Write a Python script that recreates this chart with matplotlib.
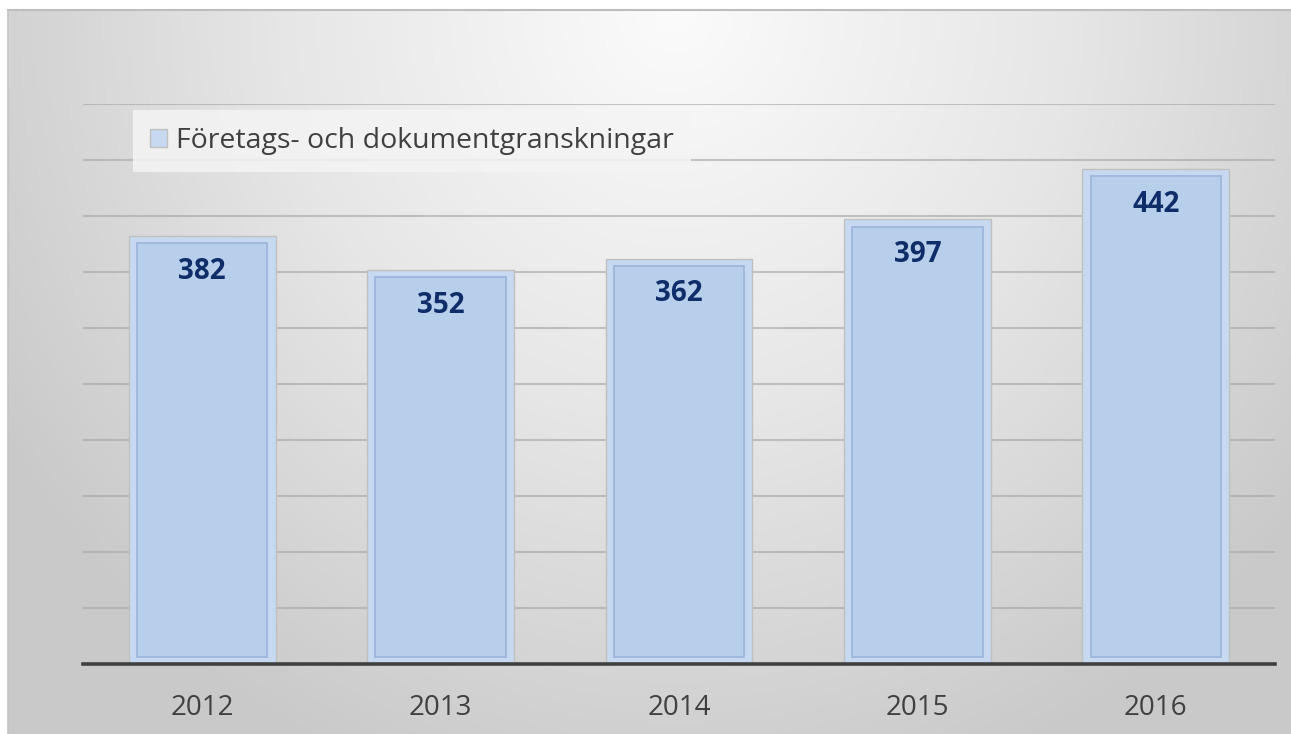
import numpy as np
import matplotlib
matplotlib.use("Agg")
import matplotlib.pyplot as plt
from matplotlib.colors import LinearSegmentedColormap

# --- data ---
years = ["2012", "2013", "2014", "2015", "2016"]
values = [382, 352, 362, 397, 442]
series_name = "Företags- och dokumentgranskningar"

W, H = 1291, 734
fig = plt.figure(figsize=(W / 100, H / 100), dpi=100)
fig.patch.set_facecolor("white")

# background panel with radial gradient
bg = fig.add_axes([8 / W, 0, 1 - 8 / W, (H - 10) / H])
bg.set_axis_off()
gx, gy = np.meshgrid(np.linspace(0, 1, 400), np.linspace(0, 1, 240))
r = np.sqrt(((gx - 0.52) / 0.62) ** 2 + ((gy - 0.0) / 1.15) ** 2)
r = np.clip(r, 0, 1)
cmap = LinearSegmentedColormap.from_list("bg", ["#fbfbfb", "#e6e6e6", "#c9c9c9"])
bg.imshow(r, cmap=cmap, aspect="auto", extent=[0, 1, 1, 0], vmin=0, vmax=1)
bg.set_xlim(0, 1)
bg.set_ylim(1, 0)
# top and left edge lines
fig.add_artist(plt.Line2D([8 / W, 1], [(H - 10) / H] * 2, color="#bdbdbd", lw=1.5))
fig.add_artist(plt.Line2D([8 / W] * 2, [0, (H - 10) / H], color="#c4c4c4", lw=1.2))

# plot area
ax = fig.add_axes([83 / W, (H - 664) / H, (1275 - 83) / W, (664 - 104) / H])
ax.patch.set_alpha(0)
x = np.arange(len(years))
ax.set_xlim(-0.5, len(years) - 0.5)
ax.set_ylim(0, 500)
ax.set_yticks(np.arange(50, 501, 50))
ax.yaxis.grid(True, color="#a8a8a8", lw=1.5, alpha=0.65)
ax.set_axisbelow(True)
for s in ["top", "right", "left"]:
    ax.spines[s].set_visible(False)
ax.spines["bottom"].set_color("#404040")
ax.spines["bottom"].set_linewidth(2.6)
ax.spines["bottom"].set_zorder(5)
ax.tick_params(axis="y", left=False, labelleft=False)
ax.tick_params(axis="x", bottom=False, labelsize=20, labelcolor="#404040", pad=18)
ax.set_xticks(x)
ax.set_xticklabels(years, fontfamily="Open Sans")

# bars: outer light frame + inner bar
bw = 0.615
ax.bar(x, values, width=bw, color="#c6d9f0", edgecolor="#c0c0c0", lw=1.0, zorder=2,
       label=series_name)
inset_x, inset_y = 0.034, 6.5
inner_h = [v - 2 * inset_y for v in values]
ax.bar(x, inner_h, bottom=inset_y, width=bw - 2 * inset_x, color="#b8cfeb",
       edgecolor="#9db6da", lw=1.3, zorder=3)

for xi, v in zip(x, values):
    ax.annotate(str(v), (xi, v), xytext=(0, -25.5), textcoords="offset points",
                ha="center", va="center", fontsize=20, fontweight="bold",
                color="#0f2d69", fontfamily="Open Sans", zorder=4)

leg = ax.legend(loc="upper left", bbox_to_anchor=(50 / 1192, 0.99), frameon=True,
                handlelength=0.6, handleheight=0.6, handletextpad=0.3,
                borderpad=0.6, borderaxespad=0, prop={"family": "Open Sans", "size": 20.5})
leg.get_frame().set_facecolor("#f4f4f4")
leg.get_frame().set_alpha(0.85)
leg.get_frame().set_edgecolor("none")
leg.get_frame().set_boxstyle("square", pad=0)
for t in leg.get_texts():
    t.set_color("#404040")

fig.savefig("out.png", dpi=100)
